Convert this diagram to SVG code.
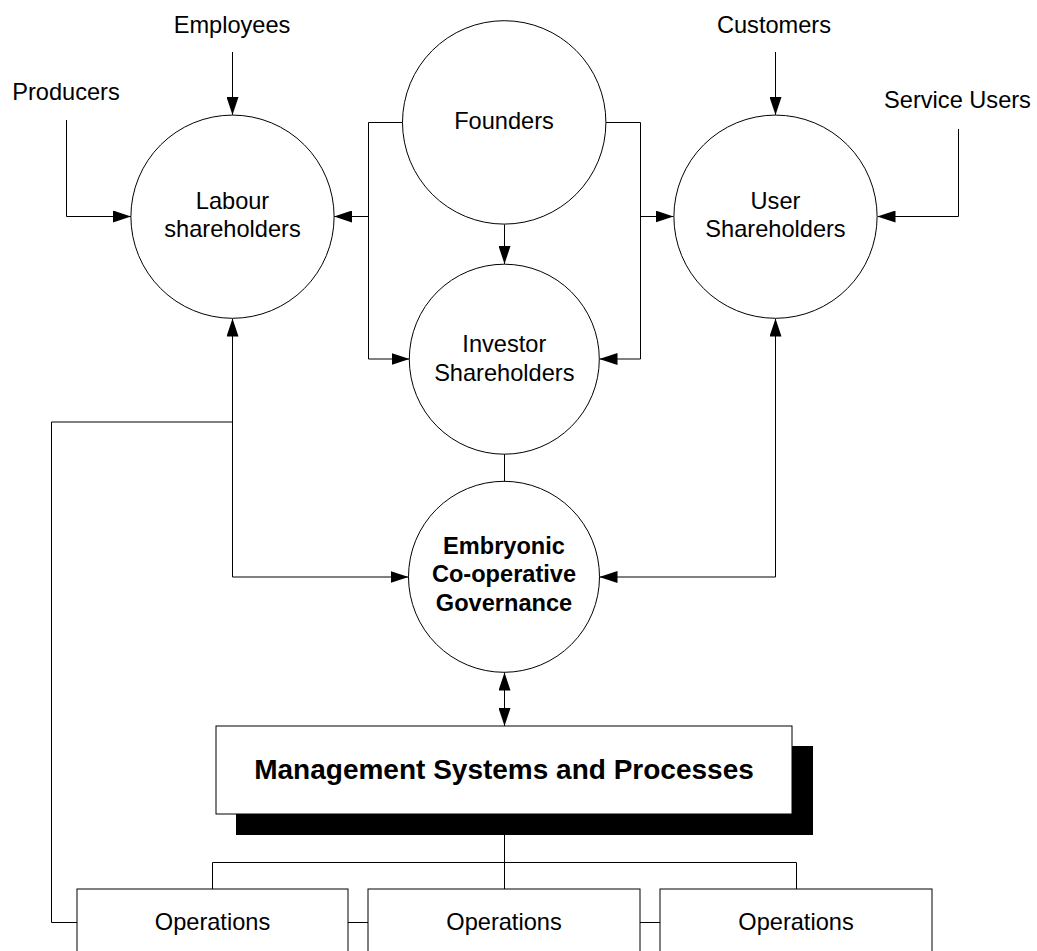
<svg xmlns="http://www.w3.org/2000/svg" width="1037" height="951" viewBox="0 0 1037 951">
<style>
  .t { font-family: "Liberation Sans", Arial, sans-serif; font-size: 23.6px; fill: #000; text-anchor: middle; }
  .b { font-weight: bold; }
  .node { fill: #fff; stroke: #000; stroke-width: 1; }
  .c { fill: none; stroke: #000; stroke-width: 1; }
</style>
<defs>
  <marker id="ah" markerUnits="userSpaceOnUse" markerWidth="18" markerHeight="12" refX="18" refY="6" orient="auto-start-reverse">
    <path d="M0,0 L18,6 L0,12 Z" fill="#000"/>
  </marker>
</defs>
<rect width="1037" height="951" fill="#fff"/>

<g id="connectors">
  <path class="c" d="M232.5,52 V115" marker-end="url(#ah)"/>
  <path class="c" d="M66.5,120 V216.5 H131" marker-end="url(#ah)"/>
  <path class="c" d="M775.5,52 V115" marker-end="url(#ah)"/>
  <path class="c" d="M958.5,129 V216.5 H877.5" marker-end="url(#ah)"/>
  <path class="c" d="M402.5,122.5 H368.5 V359 H409.5" marker-end="url(#ah)"/>
  <path class="c" d="M368.5,216.5 H334" marker-end="url(#ah)"/>
  <path class="c" d="M606,122.5 H640.5 V359 H599.5" marker-end="url(#ah)"/>
  <path class="c" d="M640.5,216.5 H673.5" marker-end="url(#ah)"/>
  <path class="c" d="M504.5,224.5 V264" marker-end="url(#ah)"/>
  <path class="c" d="M504.5,454 V481.5"/>
  <path class="c" d="M232.5,577 V318.5" marker-end="url(#ah)"/>
  <path class="c" d="M232.5,577 H408.5" marker-end="url(#ah)"/>
  <path class="c" d="M232.5,422 H51.5 V922.5 H77"/>
  <path class="c" d="M775.5,577 V318.5" marker-end="url(#ah)"/>
  <path class="c" d="M775.5,577 H599.5" marker-end="url(#ah)"/>
  <path class="c" d="M504.5,672.5 V726" marker-start="url(#ah)" marker-end="url(#ah)"/>
  <path class="c" d="M504.5,814 V889"/>
  <path class="c" d="M212.5,889 V862.5 H796.5 V889"/>
  <path class="c" d="M348,922.5 H368"/>
  <path class="c" d="M640,922.5 H660"/>
</g>

<g id="employees"><text class="t" x="232" y="33">Employees</text></g>
<g id="producers"><text class="t" x="66" y="100">Producers</text></g>
<g id="customers"><text class="t" x="774" y="33">Customers</text></g>
<g id="service-users"><text class="t" x="957.5" y="108">Service Users</text></g>

<g id="founders">
  <circle class="node" cx="504.2" cy="122.4" r="101.7"/>
  <text class="t" x="504" y="129">Founders</text>
</g>
<g id="labour">
  <circle class="node" cx="232.5" cy="216.7" r="101.6"/>
  <text class="t" x="232.5" y="209">Labour</text>
  <text class="t" x="232.5" y="237.3">shareholders</text>
</g>
<g id="user">
  <circle class="node" cx="775.5" cy="216.7" r="101.6"/>
  <text class="t" x="775.5" y="209">User</text>
  <text class="t" x="775.5" y="237.3">Shareholders</text>
</g>
<g id="investor">
  <circle class="node" cx="504.3" cy="359.2" r="95"/>
  <text class="t" x="504.3" y="351.7">Investor</text>
  <text class="t" x="504.3" y="381">Shareholders</text>
</g>
<g id="embryonic">
  <circle class="node" cx="504" cy="576.8" r="95.5"/>
  <text class="t b" x="504" y="554">Embryonic</text>
  <text class="t b" x="504" y="582.3">Co-operative</text>
  <text class="t b" x="504" y="611">Governance</text>
</g>
<g id="management">
  <rect x="236" y="746" width="577" height="89" fill="#000"/>
  <rect class="node" x="216" y="726" width="576" height="88"/>
  <text class="t b" x="504" y="779" style="font-size:28px">Management Systems and Processes</text>
</g>
<g id="operations-1">
  <rect class="node" x="77" y="889" width="271" height="80"/>
  <text class="t" x="212.5" y="930">Operations</text>
</g>
<g id="operations-2">
  <rect class="node" x="368" y="889" width="272" height="80"/>
  <text class="t" x="504" y="930">Operations</text>
</g>
<g id="operations-3">
  <rect class="node" x="660" y="889" width="272" height="80"/>
  <text class="t" x="796" y="930">Operations</text>
</g>
</svg>
